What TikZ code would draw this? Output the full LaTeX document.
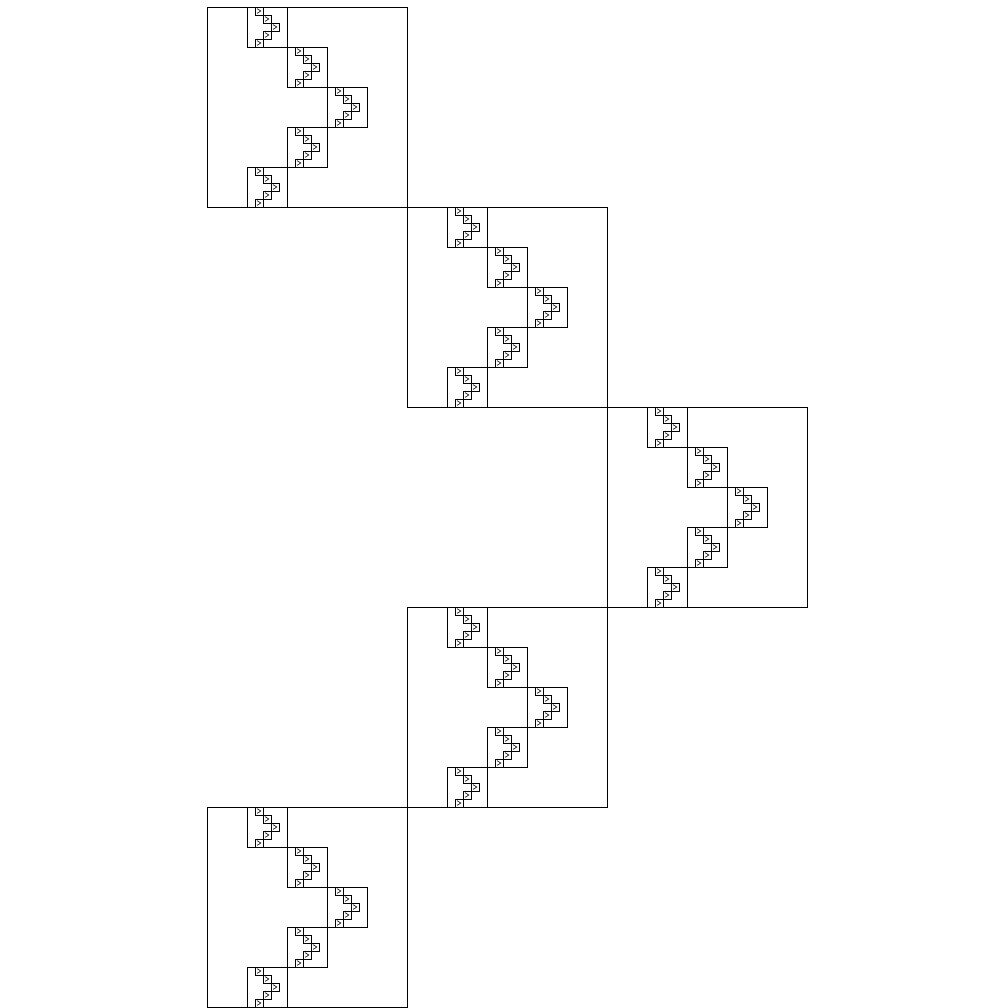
\documentclass[tikz,border=0pt]{standalone}
\begin{document}
\begin{tikzpicture}[x=1pt,y=-1pt,
  box/.style={draw=black,line width=0.8pt},
  chev/.style={draw=black,line width=0.6pt}]
\useasboundingbox (0,0) rectangle (1008,1008);
\foreach \a/\b in {1/0,2/1,3/2,2/3,1/4}{
  \pgfmathsetmacro\X{7+200*\a}
  \pgfmathsetmacro\Y{7+200*\b}
  \draw[box] (\X,\Y) rectangle ++(200,200);
  \foreach \c/\d in {1/0,2/1,3/2,2/3,1/4}{
    \pgfmathsetmacro\XX{\X+40*\c}
    \pgfmathsetmacro\YY{\Y+40*\d}
    \draw[box] (\XX,\YY) rectangle ++(40,40);
    \foreach \e/\f in {1/0,2/1,3/2,2/3,1/4}{
      \pgfmathsetmacro\XXX{\XX+8*\e}
      \pgfmathsetmacro\YYY{\YY+8*\f}
      \draw[box] (\XXX,\YYY) rectangle ++(8,8);
      \draw[chev] (\XXX+2,\YYY+1.6) -- (\XXX+5.8,\YYY+4) -- (\XXX+2,\YYY+6.4);
    }
  }
}
\end{tikzpicture}
\end{document}
